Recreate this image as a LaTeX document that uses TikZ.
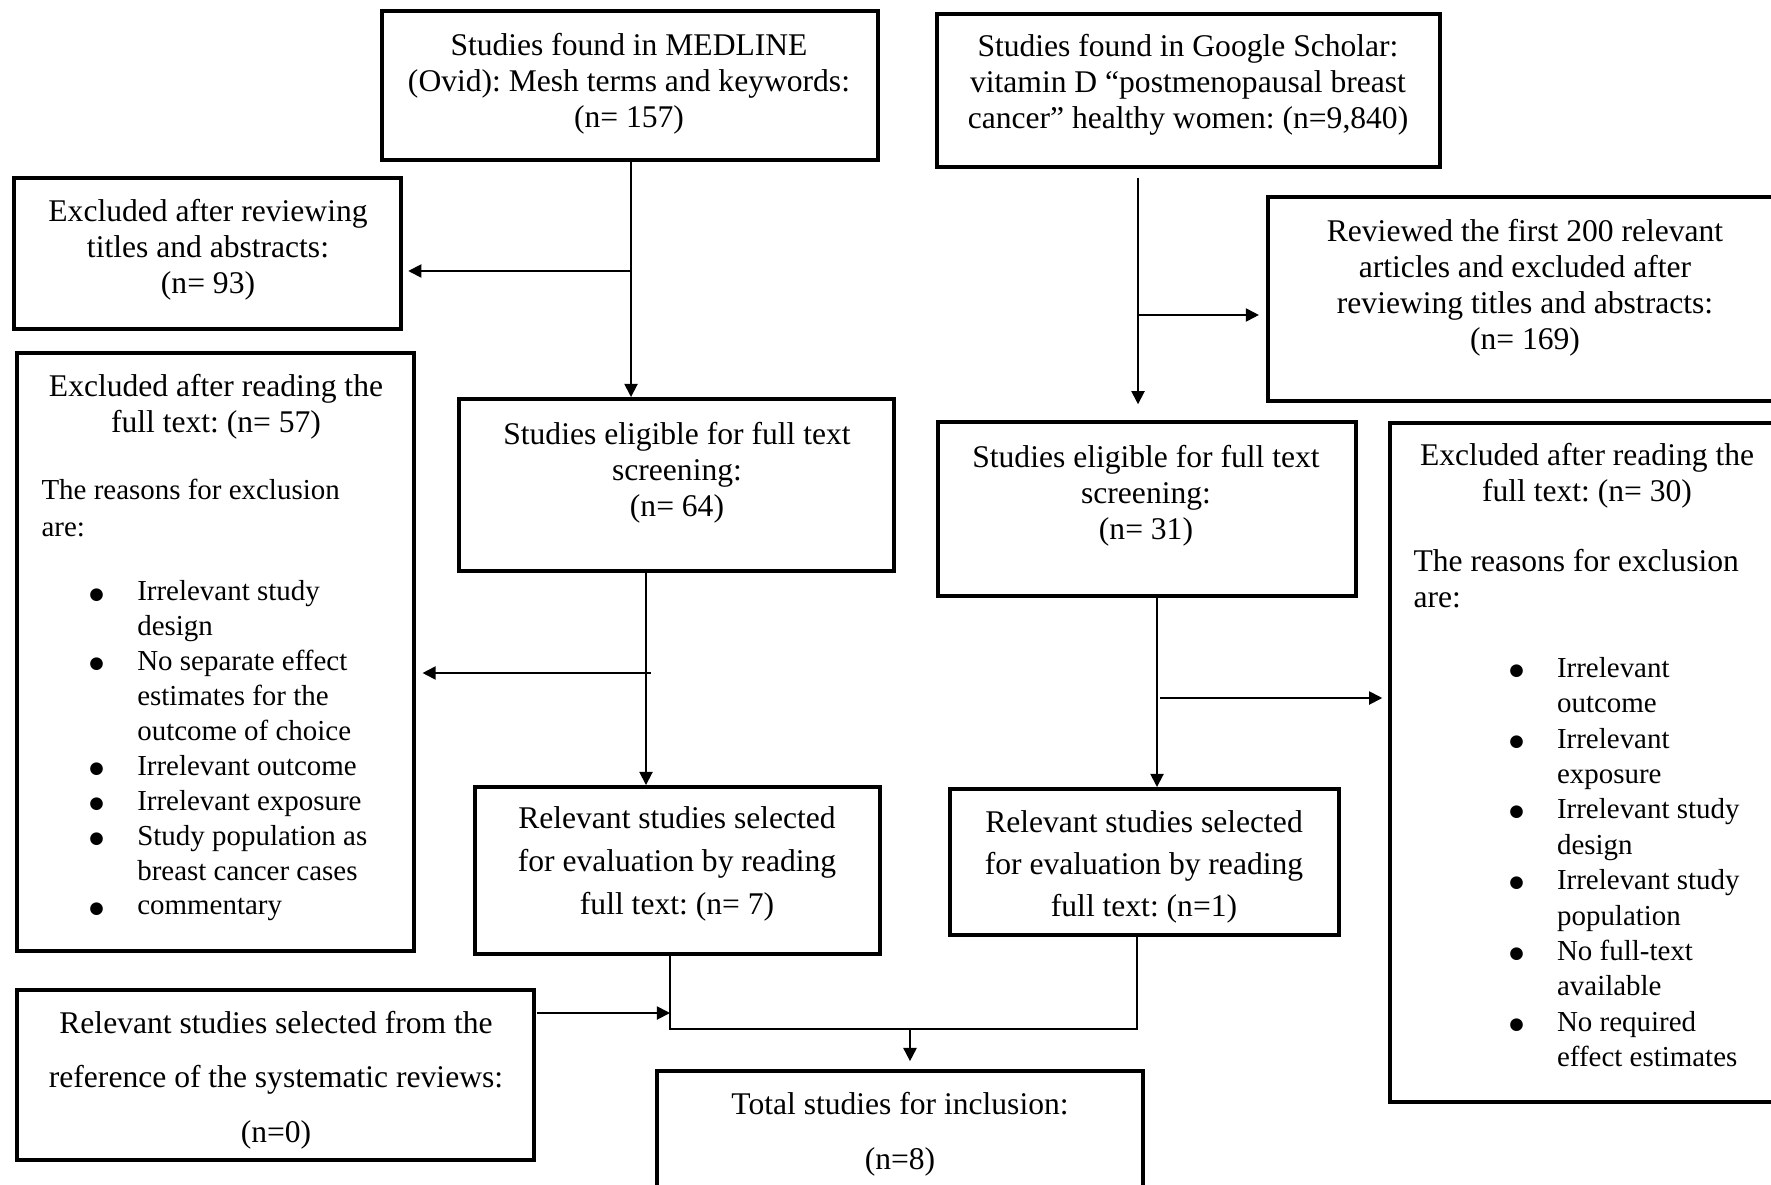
\documentclass[tikz,border=0pt]{standalone}
\usepackage{fontspec}
\setmainfont{Liberation Serif}
\newfontfamily\bulfont{DejaVu Sans}
\usetikzlibrary{fit,arrows.meta}
\newcommand{\bul}[1]{\makebox[#1][l]{\makebox[0pt]{\raisebox{0.7pt}{\bulfont\fontsize{6.3}{6.3}\selectfont ●}}}}
\begin{document}
\frenchspacing
\begin{tikzpicture}[x=0.38pt,y=-0.38pt,
  box/.style={draw,line width=1.5pt,inner sep=0pt},
  txt/.style={font=\fontsize{12}{13.7}\selectfont,align=center,inner sep=0pt},
  arr/.style={-{Triangle[length=5pt,width=5pt]},line width=0.7pt},
  ln/.style={line width=0.7pt}]
\useasboundingbox (0,0) rectangle (1771,1185);
\clip (0,0) rectangle (1771,1185);
% boxes
\node[box,fit={(382,11) (878,160)}] (b1) {};
\node[box,fit={(937,14) (1440,167)}] (b2) {};
\node[box,fit={(14,178) (401,329)}] (b3) {};
\node[box,fit={(1268,197) (1800,401)}] (b4) {};
\node[box,fit={(17,353) (414,951)}] (b5) {};
\node[box,fit={(459,399) (894,571)}] (b6) {};
\node[box,fit={(938,422) (1356,596)}] (b7) {};
\node[box,fit={(1390,423) (1800,1102)}] (b8) {};
\node[box,fit={(475,787) (880,954)}] (b9) {};
\node[box,fit={(950,789) (1339,935)}] (b10) {};
\node[box,fit={(17,990) (534,1160)}] (b11) {};
\node[box,fit={(657,1071) (1143,1250)}] (b12) {};
% texts
\node[txt] (t1) at (629,84) {Studies found in MEDLINE\\(Ovid): Mesh terms and keywords:\\(n= 157)};
\node[txt] (t2) at (1188,85) {Studies found in Google Scholar:\\vitamin D “postmenopausal breast\\cancer” healthy women: (n=9,840)};
\node[txt] (t3) at (208,250) {Excluded after reviewing\\titles and abstracts:\\(n= 93)};
\node[txt] (t4) at (1525,288) {Reviewed the first 200 relevant\\articles and excluded after\\reviewing titles and abstracts:\\(n= 169)};
\node[txt] (t5) at (216,407) {Excluded after reading the\\full text: (n= 57)};
\node[txt,font=\fontsize{11}{13.7}\selectfont,align=left,anchor=west] (t5r) at (41,508) {The reasons for exclusion\\are:};
\node[txt,font=\fontsize{11}{13.26}\selectfont,align=left,anchor=west] (t5l) at (96,751) {%
\bul{15.5pt}Irrelevant study\\
\hspace*{15.5pt}design\\
\bul{15.5pt}No separate effect\\
\hspace*{15.5pt}estimates for the\\
\hspace*{15.5pt}outcome of choice\\
\bul{15.5pt}Irrelevant outcome\\
\bul{15.5pt}Irrelevant exposure\\
\bul{15.5pt}Study population as\\
\hspace*{15.5pt}breast cancer cases\\
\bul{15.5pt}commentary};
\node[txt] (t6) at (677,473) {Studies eligible for full text\\screening:\\(n= 64)};
\node[txt] (t7) at (1146,496) {Studies eligible for full text\\screening:\\(n= 31)};
\node[txt] (t8) at (1587,476) {Excluded after reading the\\full text: (n= 30)};
\node[txt,align=left,anchor=west] (t8r) at (1413,579) {The reasons for exclusion\\are:};
\node[txt,font=\fontsize{11}{13.45}\selectfont,align=left,anchor=west] (t8l) at (1516,862) {%
\bul{15.4pt}Irrelevant\\
\hspace*{15.4pt}outcome\\
\bul{15.4pt}Irrelevant\\
\hspace*{15.4pt}exposure\\
\bul{15.4pt}Irrelevant study\\
\hspace*{15.4pt}design\\
\bul{15.4pt}Irrelevant study\\
\hspace*{15.4pt}population\\
\bul{15.4pt}No full-text\\
\hspace*{15.4pt}available\\
\bul{15.4pt}No required\\
\hspace*{15.4pt}effect estimates};
\node[txt,font=\fontsize{12}{16.3}\selectfont] (t9) at (677,864) {Relevant studies selected\\for evaluation by reading\\full text: (n= 7)};
\node[txt,font=\fontsize{12}{16.1}\selectfont] (t10) at (1144,867) {Relevant studies selected\\for evaluation by reading\\full text: (n=1)};
\node[txt,font=\fontsize{12}{20.8}\selectfont] (t11) at (276,1080) {Relevant studies selected from the\\reference of the systematic reviews:\\(n=0)};
\node[txt,font=\fontsize{12}{21}\selectfont] (t12) at (900,1134) {Total studies for inclusion:\\(n=8)};
% connectors
\coordinate (j1) at (631,271);
\draw[arr] (b1.south -| j1) -- (j1 |- b6.north);
\draw[arr,shorten >=2pt] (j1) -- (j1 -| b3.east);
\coordinate (d2) at (646,573);
\draw[arr] (d2) -- (d2 |- b9.north);
\coordinate (j2) at (651,673);
\draw[arr,shorten >=2.5pt] (j2) -- (j2 -| b5.east);
\coordinate (m1) at (670,1029);
\coordinate (m2) at (1137,1029);
\draw[ln] (b9.south -| m1) -- (m1) -- (m2) -- (b10.south -| m2);
\coordinate (j3) at (910,1029);
\draw[arr,shorten >=3pt] (j3) -- (j3 |- b12.north);
\coordinate (j4) at (537,1013);
\draw[arr] (j4) -- (j4 -| m1);
\coordinate (g1) at (1138,178);
\draw[arr,shorten >=6pt] (g1) -- (g1 |- b7.north);
\coordinate (j5) at (1138,315);
\draw[arr,shorten >=2.7pt] (j5) -- (j5 -| b4.west);
\coordinate (g2) at (1157,596);
\draw[arr] (g2) -- (g2 |- b10.north);
\coordinate (j6) at (1160,698);
\draw[arr,shorten >=2.2pt] (j6) -- (j6 -| b8.west);
\end{tikzpicture}
\end{document}
